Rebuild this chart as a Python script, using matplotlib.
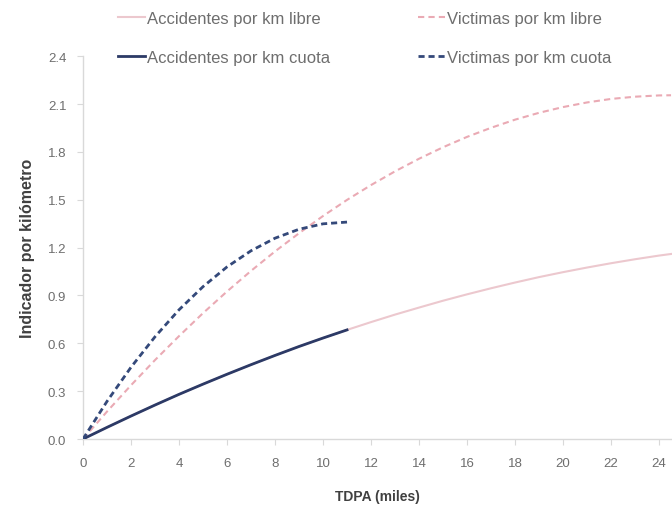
import matplotlib
matplotlib.use("Agg")
import matplotlib.pyplot as plt

plt.rcParams["font.family"] = ["Liberation Sans", "DejaVu Sans"]

# ── Data ──────────────────────────────────────────────────────────────
tdpa_libre = [0, 1, 2, 3, 4, 5, 6, 7, 8, 9, 10, 11, 12, 13, 14, 15, 16,
              17, 18, 19, 20, 21, 22, 23, 24, 24.5]
acc_libre = [0.0, 0.073, 0.144, 0.213, 0.280, 0.344, 0.406, 0.466, 0.524,
             0.580, 0.633, 0.684, 0.733, 0.780, 0.824, 0.867, 0.907, 0.945,
             0.981, 1.015, 1.046, 1.075, 1.102, 1.127, 1.150, 1.160]
vic_libre = [0.0, 0.172, 0.337, 0.495, 0.645, 0.789, 0.925, 1.054, 1.176,
             1.290, 1.398, 1.499, 1.592, 1.678, 1.757, 1.829, 1.894, 1.951,
             2.002, 2.045, 2.081, 2.110, 2.132, 2.146, 2.154, 2.155]

tdpa_cuota = [0, 1, 2, 3, 4, 5, 6, 7, 8, 9, 10, 11]
acc_cuota = [0.0, 0.073, 0.144, 0.213, 0.280, 0.344, 0.406, 0.466, 0.524,
             0.580, 0.633, 0.684]
vic_cuota = [0.0, 0.236, 0.450, 0.641, 0.810, 0.955, 1.079, 1.180, 1.259,
             1.315, 1.349, 1.360]

x_ticks = list(range(0, 25, 2))
y_ticks = [0.0, 0.3, 0.6, 0.9, 1.2, 1.5, 1.8, 2.1, 2.4]

# ── Colours ───────────────────────────────────────────────────────────
PINK_SOLID = "#ecc8ce"
PINK_DASH = "#eaaab4"
NAVY = "#2c3a66"
BLUE_DASH = "#34497a"
GREY_TXT = "#6e6e6e"
GREY_AX = "#d9d9d9"

fig = plt.figure(figsize=(6.72, 5.06), dpi=100)
ax = fig.add_axes([0.1235, 0.1304, 0.8765, 0.7566])

l1, = ax.plot(tdpa_libre, acc_libre, color=PINK_SOLID, lw=1.5,
              label="Accidentes por km libre", zorder=2)
l3, = ax.plot(tdpa_libre, vic_libre, color=PINK_DASH, lw=1.5,
              ls=(0, (3, 2)), label="Victimas por km libre", zorder=2)
l2, = ax.plot(tdpa_cuota, acc_cuota, color=NAVY, lw=2.0,
              label="Accidentes por km cuota", zorder=3)
l4, = ax.plot(tdpa_cuota, vic_cuota, color=BLUE_DASH, lw=2.0,
              ls=(0, (2.2, 1.4)), label="Victimas por km cuota", zorder=3)

ax.set_xlim(0, 24.54)
ax.set_ylim(0, 2.4)
ax.set_xticks(x_ticks)
ax.set_yticks(y_ticks)
ax.set_yticklabels([f"{v:.1f}" for v in y_ticks])

for side in ["top", "right"]:
    ax.spines[side].set_visible(False)
for side in ["left", "bottom"]:
    ax.spines[side].set_color(GREY_AX)
    ax.spines[side].set_linewidth(1.0)
ax.tick_params(axis="both", colors=GREY_AX, labelcolor=GREY_TXT,
               labelsize=9.5, length=4, direction="out")
ax.tick_params(axis="x", pad=9)
ax.tick_params(axis="y", pad=8)

ax.set_xlabel("TDPA (miles)", fontsize=10, fontweight="bold",
              color="#404040", labelpad=14)
ax.set_ylabel("Indicador por kilómetro", fontsize=11.5, fontweight="bold",
              color="#404040", labelpad=9)

# two single-column legends so each column sits where the reference has it
leg_kw = dict(loc="upper left", frameon=False, fontsize=12,
              labelcolor=GREY_TXT, handlelength=1.6, handletextpad=0.15,
              labelspacing=1.45, borderpad=0, borderaxespad=0)
fig.legend(handles=[l1, l2], bbox_to_anchor=(118 / 672, 0.977), **leg_kw)
fig.legend(handles=[l3, l4], bbox_to_anchor=(418 / 672, 0.977), **leg_kw)

fig.savefig("out.png", dpi=100, facecolor="white")
